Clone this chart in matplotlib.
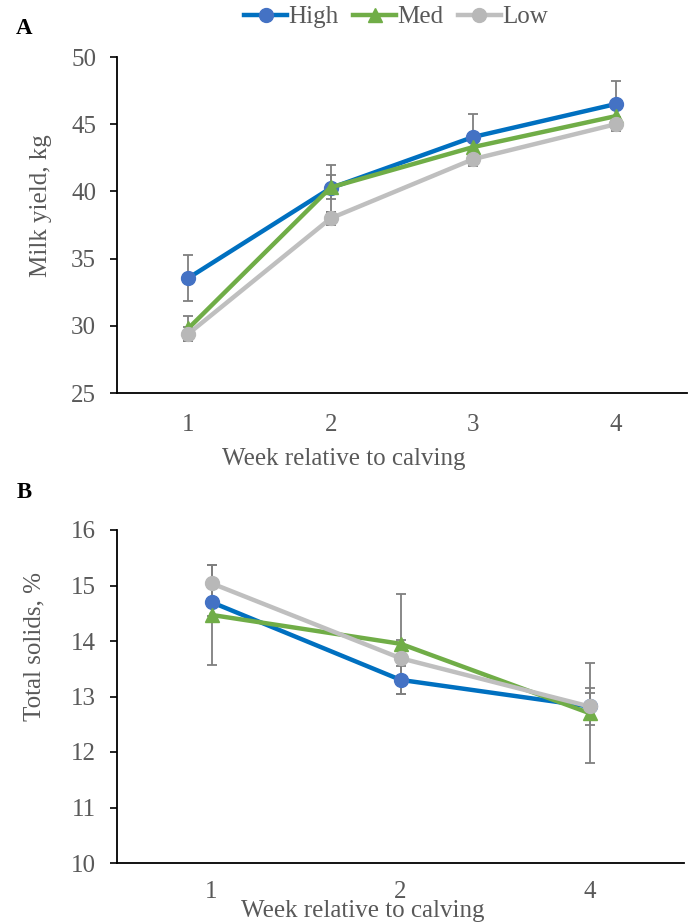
import matplotlib
matplotlib.use("Agg")
import matplotlib.pyplot as plt
from matplotlib.lines import Line2D

# ---------------- data ----------------
series_names = ["High", "Med", "Low"]

weeks_a = ["1", "2", "3", "4"]
milk_high = [33.55, 40.25, 44.05, 46.5]
milk_med = [29.8, 40.3, 43.3, 45.6]
milk_low = [29.4, 38.0, 42.4, 45.0]
milk_err_high = [1.7, 1.75, 1.7, 1.7]
milk_err_med = [0.9, 0.9, 0.9, 0.9]
milk_err_low = [0.5, 0.5, 0.5, 0.5]

weeks_b = ["1", "2", "4"]
ts_high = [14.7, 13.3, 12.82]
ts_med = [14.47, 13.95, 12.7]
ts_low = [15.04, 13.69, 12.82]
ts_err_high = [0.25, 0.25, 0.25]
ts_err_med = [0.9, 0.9, 0.9]
ts_err_low = [0.33, 0.33, 0.33]

# ---------------- style ----------------
plt.rcParams['font.family'] = ['Liberation Serif', 'DejaVu Serif']
TXT = '#595959'
line_colors = ['#0070C0', '#70AD47', '#BFBFBF']
marker_colors = ['#4472C4', '#70AD47', '#B8B8B8']
markers = ['o', '^', 'o']
ERR = '#7F7F7F'
FS = 18

fig = plt.figure(figsize=(6.88, 9.24), dpi=100)
axA = fig.add_axes([117/688, 1-393/924, 570/688, 336/924])
axB = fig.add_axes([117/688, 1-863/924, 567/688, 333/924])


def draw(ax, cats, vals, errs, ylim, yticks, ylabel, ylabel_xy, xlabel_xy,
         xpad):
    x = list(range(1, len(cats) + 1))
    for v, e in zip(vals, errs):
        ax.errorbar(x, v, yerr=e, fmt='none', ecolor=ERR, elinewidth=1.3,
                    capsize=3.6, capthick=1.3, zorder=2)
    for i, v in enumerate(vals):
        ax.plot(x, v, color=line_colors[i], lw=3.2, marker=markers[i],
                ms=10, mfc=marker_colors[i], mec=marker_colors[i],
                zorder=3 + i)
    ax.set_xlim(0.5, len(cats) + 0.5)
    ax.set_ylim(*ylim)
    ax.set_yticks(yticks)
    ax.set_xticks(x)
    ax.set_xticklabels(cats)
    for s in ['top', 'right']:
        ax.spines[s].set_visible(False)
    for s in ['left', 'bottom']:
        ax.spines[s].set_color('#000000')
        ax.spines[s].set_linewidth(1.3)
    ax.tick_params(axis='y', direction='out', length=5, width=1.2,
                   color='#000000', labelsize=FS, labelcolor=TXT, pad=10)
    ax.tick_params(axis='x', length=0, labelsize=FS, labelcolor=TXT, pad=xpad)
    ax.set_ylabel(ylabel, fontsize=FS, color=TXT)
    ax.yaxis.set_label_coords(*ylabel_xy)
    ax.set_xlabel("Week relative to calving", fontsize=FS, color=TXT)
    ax.xaxis.set_label_coords(*xlabel_xy)


draw(axA, weeks_a, [milk_high, milk_med, milk_low],
     [milk_err_high, milk_err_med, milk_err_low],
     (25, 50), [25, 30, 35, 40, 45, 50], "Milk yield, kg",
     (-0.114, 0.557), (0.397, -0.164), 15)
draw(axB, weeks_b, [ts_high, ts_med, ts_low],
     [ts_err_high, ts_err_med, ts_err_low],
     (10, 16), [10, 11, 12, 13, 14, 15, 16], "Total solids, %",
     (-0.127, 0.649), (0.434, -0.112), 13)

fig.text(24/688, 1-28/924, "A", fontsize=16.5, fontweight='bold',
         ha='center', va='center', color='black')
fig.text(24/688, 1-493/924, "B", fontsize=16.5, fontweight='bold',
         ha='center', va='center', color='black')

handles = [Line2D([], [], color=line_colors[i], lw=3.2, marker=markers[i],
                  ms=10, mfc=marker_colors[i], mec=marker_colors[i])
           for i in range(3)]
leg = fig.legend(handles, series_names, loc='center',
                 bbox_to_anchor=(396/688, 1-17/924), ncol=3, frameon=False,
                 fontsize=FS, handlelength=1.7, handletextpad=0.05,
                 columnspacing=0.6, labelcolor=TXT)

fig.savefig("out.png", dpi=100)
